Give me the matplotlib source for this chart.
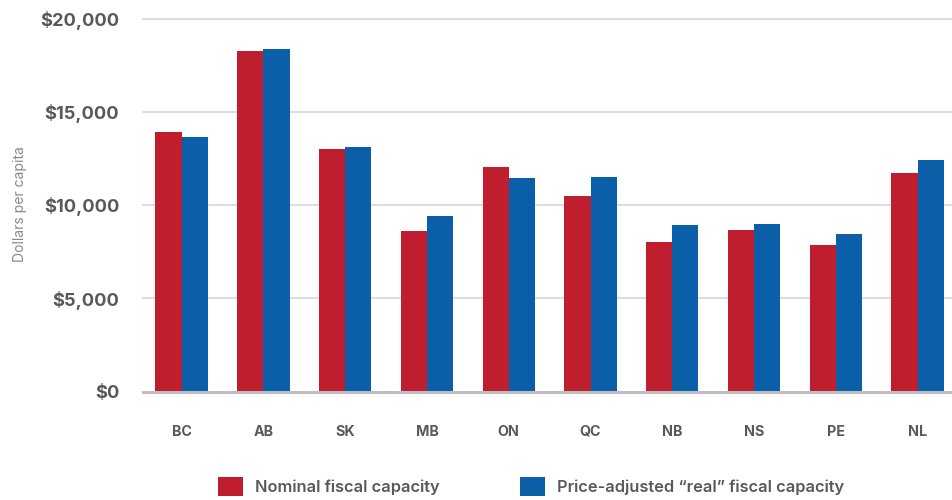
import matplotlib
matplotlib.use("Agg")
import matplotlib.pyplot as plt
import numpy as np
from matplotlib.patches import Patch

provinces = ["BC", "AB", "SK", "MB", "ON", "QC", "NB", "NS", "PE", "NL"]
nominal = [13910, 18250, 12990, 8600, 12030, 10480, 8010, 8650, 7850, 11710]
real = [13640, 18350, 13100, 9410, 11440, 11490, 8920, 8970, 8440, 12400]
yticks = [0, 5000, 10000, 15000, 20000]
ytick_labels = ["$0", "$5,000", "$10,000", "$15,000", "$20,000"]
series_names = ["Nominal fiscal capacity", "Price-adjusted \u201creal\u201d fiscal capacity"]

RED = "#BE1E2D"
BLUE = "#0A5FA8"
TEXT = "#58595B"

plt.rcParams["font.family"] = ["Inter", "DejaVu Sans"]

fig = plt.figure(figsize=(9.52, 5.0), dpi=100)
ax = fig.add_axes([0.150, 0.217, 0.850, 0.746])

x = np.arange(len(provinces))
w = 0.32
ax.bar(x - w / 2, nominal, width=w, color=RED, zorder=3)
ax.bar(x + w / 2, real, width=w, color=BLUE, zorder=3)

ax.set_xlim(-0.475, 9.42)
ax.set_ylim(0, 20000)
ax.set_yticks(yticks)
ax.set_yticklabels(ytick_labels, fontsize=13.2, fontweight="bold", color=TEXT)
ax.set_xticks(x)
ax.set_xticklabels(provinces, fontsize=10.3, fontweight="bold", color=TEXT)
ax.tick_params(axis="both", length=0)
ax.tick_params(axis="y", pad=17)
ax.tick_params(axis="x", pad=24)

for v in yticks[1:]:
    ax.axhline(v, color="#DDDDDD", lw=1.5, zorder=1, clip_on=False)
ax.axhline(0, color="#BDBDC2", lw=2.2, zorder=4, clip_on=False)

for s in ax.spines.values():
    s.set_visible(False)

fig.text(0.021, 0.592, "Dollars per capita", rotation=90, ha="center", va="center",
         fontsize=10, color="#8A8A8A")

handles = [Patch(facecolor=RED, edgecolor="none"), Patch(facecolor=BLUE, edgecolor="none")]
fig.legend(handles, series_names, loc="center", bbox_to_anchor=(0.558, 0.027), ncol=2,
           frameon=False, prop={"size": 11.8, "weight": "semibold"}, labelcolor=TEXT,
           handlelength=1.5, handleheight=1.45, handletextpad=0.75, columnspacing=4.9)

fig.savefig("out.png", dpi=100)
